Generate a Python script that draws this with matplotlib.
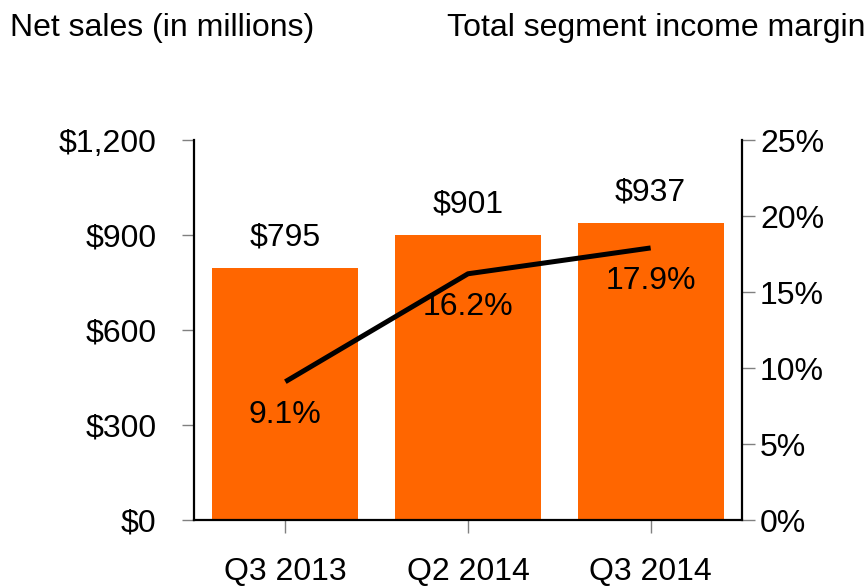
import matplotlib
matplotlib.use("Agg")
import matplotlib.pyplot as plt

plt.rcParams['font.family'] = ['Liberation Sans', 'DejaVu Sans']

categories = ["Q3 2013", "Q2 2014", "Q3 2014"]
net_sales = [795, 901, 937]
margin = [9.1, 16.2, 17.9]
sales_labels = ["$795", "$901", "$937"]
margin_labels = ["9.1%", "16.2%", "17.9%"]
left_ticks = [0, 300, 600, 900, 1200]
left_ticklabels = ["$0", "$300", "$600", "$900", "$1,200"]
right_ticks = [0, 5, 10, 15, 20, 25]
right_ticklabels = ["0%", "5%", "10%", "15%", "20%", "25%"]

orange = "#FF6600"
fs = 23

fig = plt.figure(figsize=(8.67, 5.88), dpi=100)
ax = fig.add_axes([0.2238, 0.1156, 0.8558 - 0.2238, 0.7619 - 0.1156])
x = list(range(len(categories)))
ax.bar(x, net_sales, width=0.8, color=orange, zorder=2)
ax.set_xlim(-0.5, 2.5)
ax.set_ylim(0, 1200)
ax.set_yticks(left_ticks)
ax.set_yticklabels(left_ticklabels, fontsize=fs)
ax.set_xticks(x)
ax.set_xticklabels(categories, fontsize=fs)
ax.tick_params(axis='y', direction='out', length=9, width=1, color='#808080', pad=18)
ax.tick_params(axis='x', direction='out', length=9, width=1, color='#808080', pad=17.5)
for s in ['top', 'right']:
    ax.spines[s].set_visible(False)
for s in ['left', 'bottom']:
    ax.spines[s].set_linewidth(1.6)
    ax.spines[s].set_color('black')

for xi, v, lab in zip(x, net_sales, sales_labels):
    ax.annotate(lab, (xi, v), xytext=(0, 22), textcoords='offset points',
                ha='center', va='center', fontsize=fs)

ax2 = ax.twinx()
ax2.plot(x, margin, color='black', linewidth=3.6, zorder=3, solid_capstyle='butt')
ax2.set_ylim(0, 25)
ax2.set_yticks(right_ticks)
ax2.set_yticklabels(right_ticklabels, fontsize=fs)
ax2.tick_params(axis='y', direction='out', length=9, width=1, color='#808080', pad=4)
for s in ['top', 'left', 'bottom']:
    ax2.spines[s].set_visible(False)
ax2.spines['right'].set_linewidth(1.6)
ax2.spines['right'].set_color('black')

for xi, v, lab in zip(x, margin, margin_labels):
    ax2.annotate(lab, (xi, v), xytext=(0, -24), textcoords='offset points',
                 ha='center', va='center', fontsize=fs)

fig.text(10 / 867, 1 - 28 / 588, "Net sales (in millions)", fontsize=fs, ha='left', va='center')
fig.text(447 / 867, 1 - 28 / 588, "Total segment income margin", fontsize=fs, ha='left', va='center')

fig.savefig("out.png", dpi=100)
